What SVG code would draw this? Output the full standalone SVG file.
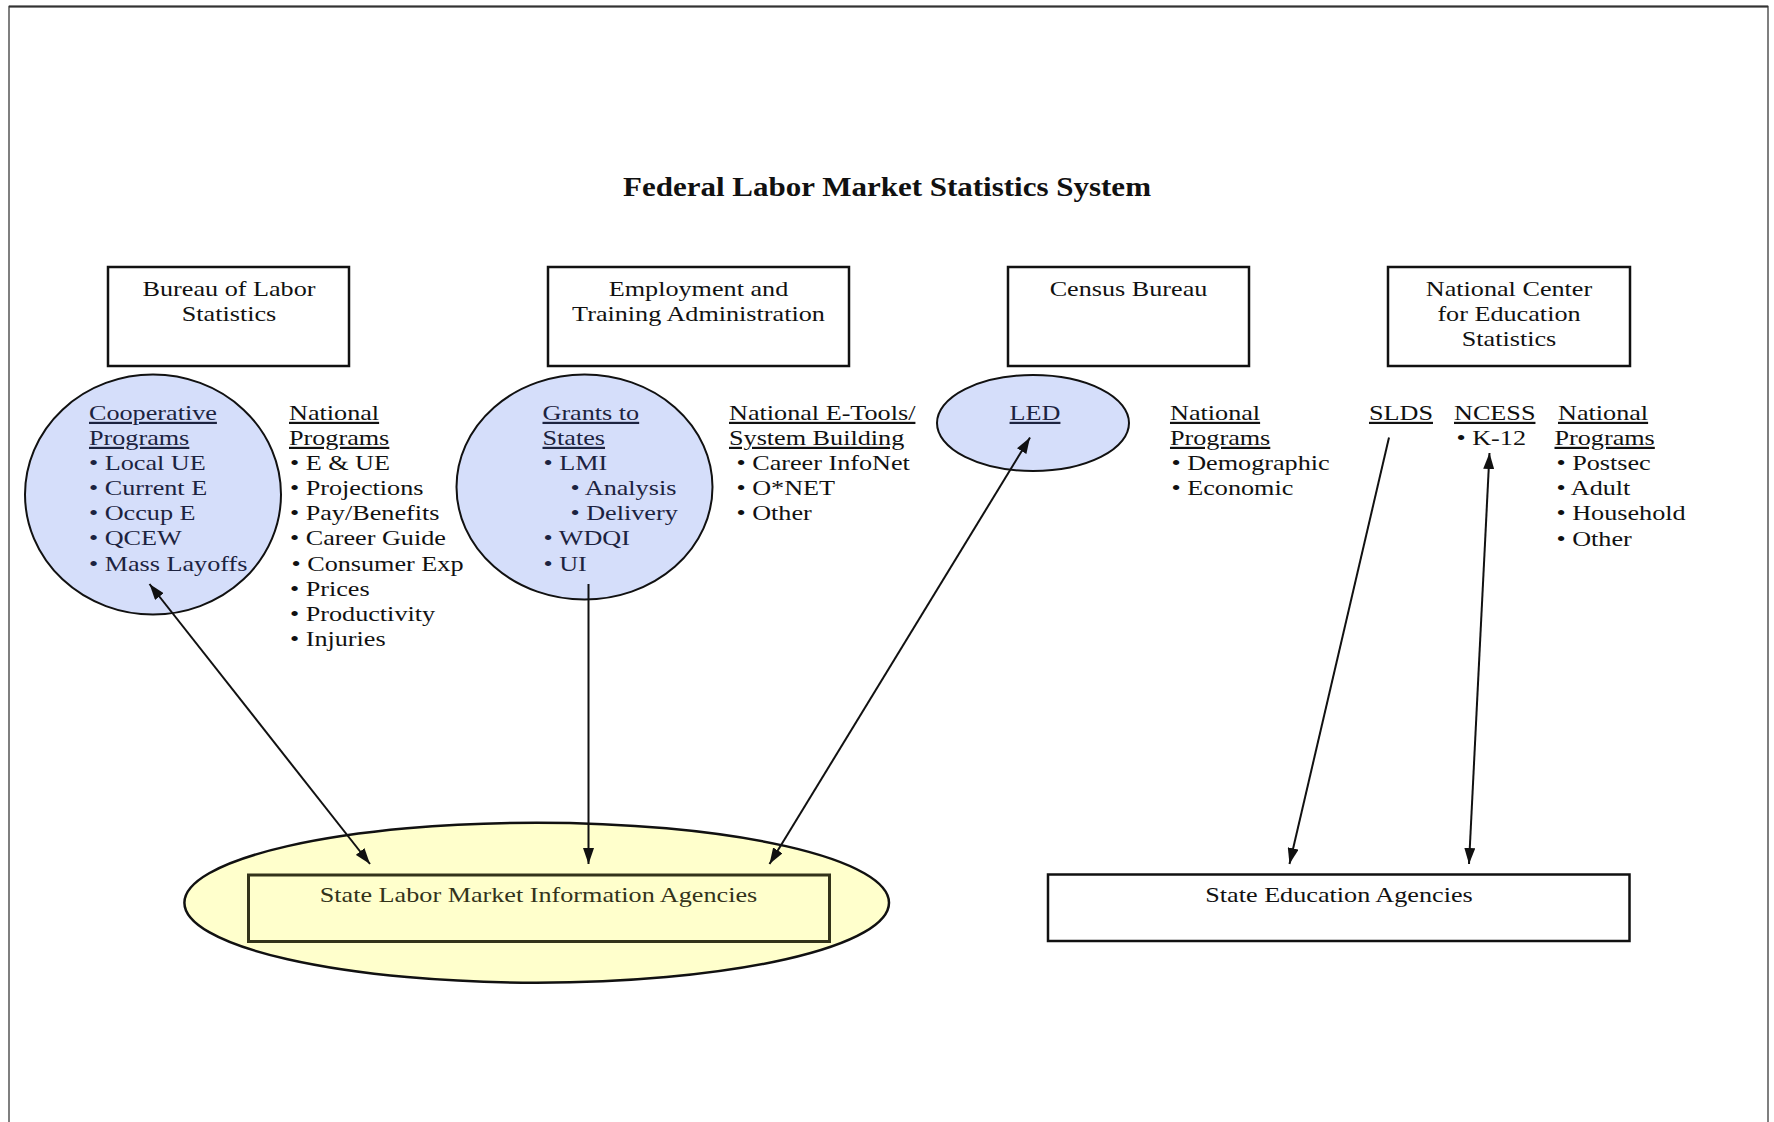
<svg xmlns="http://www.w3.org/2000/svg" width="1774" height="1122" viewBox="0 0 1774 1122">
<style>
.t{font-family:"Liberation Serif","Times New Roman",serif;font-size:22px;fill:#111;transform:scaleX(1.19);transform-box:fill-box;transform-origin:0% 50%;}
.m{text-anchor:middle;transform-origin:50% 50%;}
.u{text-decoration:underline;}
.in{fill:#1c2340;}
.ol{fill:#33331a;}
.title{font-family:"Liberation Serif","Times New Roman",serif;font-size:26.5px;font-weight:bold;fill:#111;text-anchor:middle;transform:scaleX(1.17);transform-box:fill-box;transform-origin:50% 50%;}
.box{fill:#fff;stroke:#111;stroke-width:2.5;}
.blue{fill:#d5defa;stroke:#111;stroke-width:2;}
.conn{stroke:#111;stroke-width:2;fill:none;}
</style>
<defs>
<marker id="ah" viewBox="0 0 16 11" refX="16" refY="5.5" markerWidth="16" markerHeight="11" markerUnits="userSpaceOnUse" orient="auto-start-reverse">
<path d="M0,0 L16,5.5 L0,11 z" fill="#111"/>
</marker>
</defs>
<rect x="0" y="0" width="1774" height="1122" fill="#fff"/>
<path d="M9,1122 V6.5 H1768 V1122" fill="none" stroke="#555" stroke-width="1.5"/>
<line x1="9" y1="6.5" x2="1768" y2="6.5" stroke="#333" stroke-width="2"/>

<g id="title"><text class="title" x="887" y="196">Federal Labor Market Statistics System</text></g>

<g id="bls">
<rect class="box" x="108" y="267" width="241" height="99"/>
<text class="t m" x="229" y="296">Bureau of Labor</text>
<text class="t m" x="229" y="321">Statistics</text>
</g>
<g id="eta">
<rect class="box" x="548" y="267" width="301" height="99"/>
<text class="t m" x="698.5" y="296">Employment and</text>
<text class="t m" x="698.5" y="321">Training Administration</text>
</g>
<g id="census">
<rect class="box" x="1008" y="267" width="241" height="99"/>
<text class="t m" x="1128.5" y="296">Census Bureau</text>
</g>
<g id="nces">
<rect class="box" x="1388" y="267" width="242" height="99"/>
<text class="t m" x="1509" y="296">National Center</text>
<text class="t m" x="1509" y="321">for Education</text>
<text class="t m" x="1509" y="346">Statistics</text>
</g>

<g id="bls-coop">
<ellipse class="blue" cx="153" cy="494.5" rx="128" ry="120"/>
<text class="t in u" x="89" y="420">Cooperative</text>
<text class="t in u" x="89" y="445">Programs</text>
<text class="t in" x="89" y="470">• Local UE</text>
<text class="t in" x="89" y="495">• Current E</text>
<text class="t in" x="89" y="520.5">• Occup E</text>
<text class="t in" x="89" y="545.5">• QCEW</text>
<text class="t in" x="89" y="571">• Mass Layoffs</text>
</g>
<g id="bls-national">
<text class="t u" x="289" y="420">National</text>
<text class="t u" x="289" y="445">Programs</text>
<text class="t" x="290" y="470">• E &amp; UE</text>
<text class="t" x="290" y="495">• Projections</text>
<text class="t" x="290" y="520.5">• Pay/Benefits</text>
<text class="t" x="290" y="545.5">• Career Guide</text>
<text class="t" x="291.5" y="571">• Consumer Exp</text>
<text class="t" x="290" y="596">• Prices</text>
<text class="t" x="290" y="621">• Productivity</text>
<text class="t" x="290" y="646.5">• Injuries</text>
</g>

<g id="eta-grants">
<ellipse class="blue" cx="584.5" cy="487" rx="128" ry="112.5"/>
<text class="t in u" x="542.5" y="420">Grants to</text>
<text class="t in u" x="542.5" y="445">States</text>
<text class="t in" x="543.5" y="470">• LMI</text>
<text class="t in" x="570.5" y="495">• Analysis</text>
<text class="t in" x="570.5" y="520.5">• Delivery</text>
<text class="t in" x="543.5" y="545.5">• WDQI</text>
<text class="t in" x="543.5" y="571">• UI</text>
</g>
<g id="eta-etools">
<text class="t u" x="729" y="420">National E-Tools/</text>
<text class="t u" x="729" y="445">System Building</text>
<text class="t" x="736.5" y="470">• Career InfoNet</text>
<text class="t" x="736.5" y="495">• O*NET</text>
<text class="t" x="736.5" y="520.5">• Other</text>
</g>

<g id="census-led">
<ellipse class="blue" cx="1033" cy="423" rx="96" ry="48"/>
<text class="t in u m" x="1035" y="420">LED</text>
</g>
<g id="census-national">
<text class="t u" x="1170" y="420">National</text>
<text class="t u" x="1170" y="445">Programs</text>
<text class="t" x="1171.5" y="470">• Demographic</text>
<text class="t" x="1171.5" y="495">• Economic</text>
</g>

<g id="nces-slds">
<text class="t u" x="1369" y="420">SLDS</text>
</g>
<g id="nces-ncess">
<text class="t u" x="1454" y="420">NCESS</text>
<text class="t" x="1456.5" y="445">• K-12</text>
</g>
<g id="nces-national">
<text class="t u" x="1558" y="420">National</text>
<text class="t u" x="1554.5" y="445">Programs</text>
<text class="t" x="1556.5" y="470">• Postsec</text>
<text class="t" x="1556.5" y="495">• Adult</text>
<text class="t" x="1556.5" y="520.5">• Household</text>
<text class="t" x="1556.5" y="546">• Other</text>
</g>

<g id="state-lmi">
<ellipse cx="536.7" cy="902.7" rx="352.3" ry="80" fill="#ffffcc" stroke="#111" stroke-width="2.5"/>
<rect x="248.5" y="875" width="581" height="66.5" fill="#ffffcc" stroke="#33331a" stroke-width="3"/>
<text class="t m ol" x="538.5" y="902">State Labor Market Information Agencies</text>
</g>
<g id="state-ed">
<rect class="box" x="1048" y="874.5" width="581.5" height="66.5"/>
<text class="t m" x="1339" y="902.5">State Education Agencies</text>
</g>

<g id="connectors">
<line class="conn" x1="149.5" y1="584" x2="370" y2="864" marker-start="url(#ah)" marker-end="url(#ah)"/>
<line class="conn" x1="588.5" y1="584" x2="588.5" y2="864" marker-end="url(#ah)"/>
<line class="conn" x1="1030" y1="437.5" x2="769.5" y2="864" marker-start="url(#ah)" marker-end="url(#ah)"/>
<line class="conn" x1="1389" y1="437.5" x2="1289.5" y2="864" marker-end="url(#ah)"/>
<line class="conn" x1="1489.5" y1="453" x2="1469" y2="864" marker-start="url(#ah)" marker-end="url(#ah)"/>
</g>
</svg>
